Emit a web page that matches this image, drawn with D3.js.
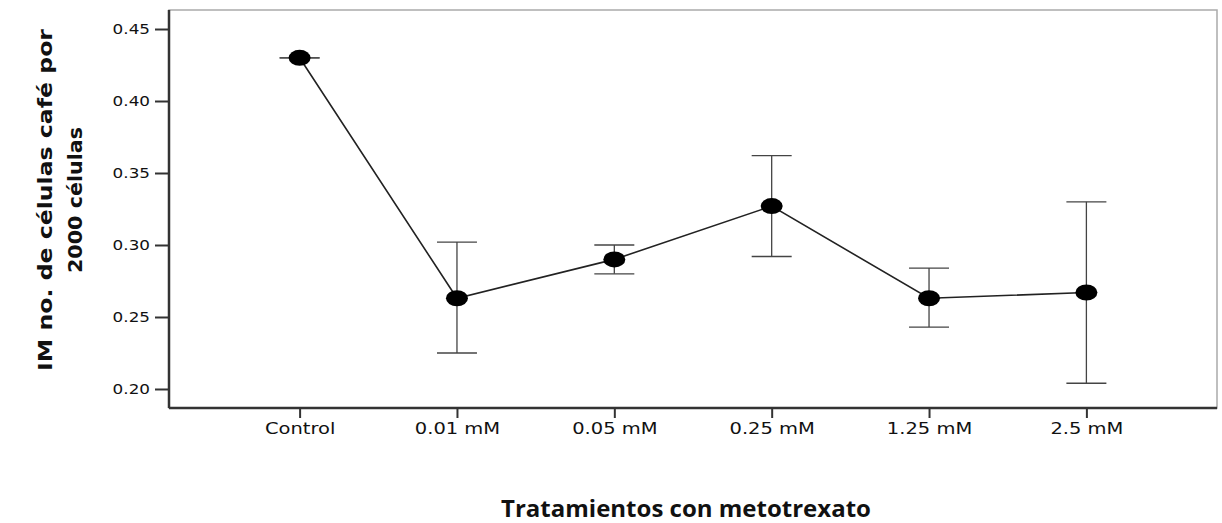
<!DOCTYPE html>
<html>
<head>
<meta charset="utf-8">
<script src="https://cdn.jsdelivr.net/npm/d3@7"></script>
<style>
  body { margin: 0; background: #fff; }
  svg { display: block; }
</style>
</head>
<body>
<script>
var categories = ["Control", "0.01 mM", "0.05 mM", "0.25 mM", "1.25 mM", "2.5 mM"];
var means = [0.430, 0.263, 0.290, 0.327, 0.263, 0.267];
var upper = [0.430, 0.302, 0.300, 0.362, 0.284, 0.330];
var lower = [0.430, 0.225, 0.280, 0.292, 0.243, 0.204];
var yTicks = [0.20, 0.25, 0.30, 0.35, 0.40, 0.45];

var width = 1222, height = 523;
var plotLeft = 169, plotRight = 1217, plotTop = 10, plotBottom = 408;

var svg = d3.select("body").append("svg")
    .attr("width", width)
    .attr("height", height);

var x = d3.scalePoint()
    .domain(categories)
    .range([plotLeft, plotRight])
    .padding(0.83);

var y = d3.scaleLinear()
    .domain([0.1868, 0.4632])
    .range([plotBottom, plotTop]);

var data = categories.map(function(c, i) {
    return { cat: c, mean: means[i], hi: upper[i], lo: lower[i] };
});

// frame
svg.append("rect")
    .attr("x", plotLeft).attr("y", plotTop)
    .attr("width", plotRight - plotLeft).attr("height", plotBottom - plotTop)
    .attr("fill", "none")
    .attr("stroke", "#aaa")
    .attr("stroke-width", 1.5);

var yAxis = svg.append("g")
    .attr("transform", "translate(" + plotLeft + ",0)")
    .call(d3.axisLeft(y).tickValues(yTicks).tickFormat(d3.format(".2f")).tickSize(14).tickPadding(4));

var xAxis = svg.append("g")
    .attr("transform", "translate(0," + plotBottom + ")")
    .call(d3.axisBottom(x).tickSize(10).tickPadding(5));

[yAxis, xAxis].forEach(function(a) {
    a.select(".domain").attr("stroke", "#333").attr("stroke-width", 2.5);
    a.selectAll(".tick line").attr("stroke", "#333").attr("stroke-width", 2);
    a.selectAll(".tick text")
        .attr("fill", "#111")
        .style("font-family", "'DejaVu Sans', Verdana, sans-serif");
});
xAxis.select(".domain").attr("d", "M" + plotLeft + ",0H" + plotRight);
yAxis.select(".domain").attr("d", "M0," + plotTop + "V" + plotBottom);

// the original's labels look horizontally stretched
yAxis.selectAll(".tick text")
    .style("font-size", "14px")
    .attr("x", -19 / 1.2)
    .attr("transform", "scale(1.2,1)");
xAxis.selectAll(".tick text")
    .style("font-size", "15px")
    .attr("transform", "scale(1.3,1)");

// error bars
var capW = 20;
var bars = svg.append("g").attr("stroke", "#444").attr("stroke-width", 1.3);
bars.selectAll(".v").data(data).enter().append("line")
    .attr("x1", function(d) { return x(d.cat); })
    .attr("x2", function(d) { return x(d.cat); })
    .attr("y1", function(d) { return y(d.hi); })
    .attr("y2", function(d) { return y(d.lo); });
bars.selectAll(".hi").data(data).enter().append("line")
    .attr("x1", function(d) { return x(d.cat) - capW; })
    .attr("x2", function(d) { return x(d.cat) + capW; })
    .attr("y1", function(d) { return y(d.hi); })
    .attr("y2", function(d) { return y(d.hi); });
bars.selectAll(".lo").data(data).enter().append("line")
    .attr("x1", function(d) { return x(d.cat) - capW; })
    .attr("x2", function(d) { return x(d.cat) + capW; })
    .attr("y1", function(d) { return y(d.lo); })
    .attr("y2", function(d) { return y(d.lo); });

// mean line
var line = d3.line()
    .x(function(d) { return x(d.cat); })
    .y(function(d) { return y(d.mean); });
svg.append("path")
    .datum(data)
    .attr("d", line)
    .attr("fill", "none")
    .attr("stroke", "#222")
    .attr("stroke-width", 1.6);

svg.selectAll(".pt").data(data).enter().append("ellipse")
    .attr("cx", function(d) { return x(d.cat); })
    .attr("cy", function(d) { return y(d.mean); })
    .attr("rx", 11)
    .attr("ry", 8)
    .attr("fill", "#000");

// y title
var yt = svg.append("text")
    .attr("transform", "translate(52,200) rotate(-90)")
    .attr("text-anchor", "middle")
    .style("font-family", "'DejaVu Sans', Verdana, sans-serif")
    .style("font-weight", "bold")
    .style("font-size", "19px")
    .attr("fill", "#111");
yt.append("tspan").attr("x", 0).attr("dy", 0)
    .attr("textLength", 342).attr("lengthAdjust", "spacingAndGlyphs")
    .text("IM no. de células café por");
yt.append("tspan").attr("x", 0).attr("dy", 30)
    .attr("textLength", 146).attr("lengthAdjust", "spacingAndGlyphs")
    .text("2000 células");

// x title
svg.append("text")
    .attr("x", 686)
    .attr("y", 517)
    .attr("text-anchor", "middle")
    .style("font-family", "'Open Sans', Lato, sans-serif")
    .style("font-weight", "bold")
    .style("font-size", "24px")
    .attr("fill", "#111")
    .text("Tratamientos con metotrexato");
</script>
</body>
</html>
